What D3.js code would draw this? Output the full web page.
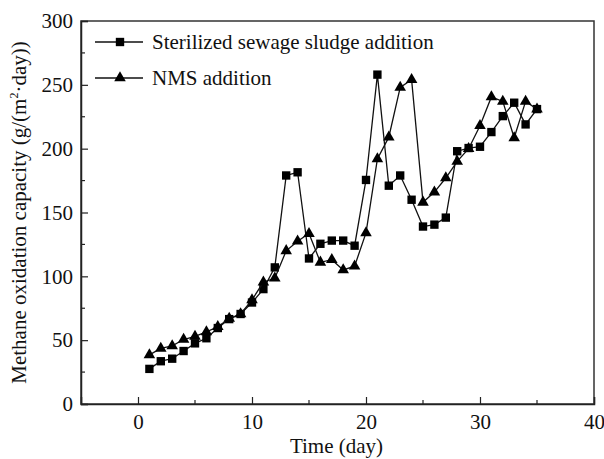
<!DOCTYPE html>
<html><head><meta charset="utf-8">
<script src="https://cdn.jsdelivr.net/npm/d3@7"></script>
<style>body{margin:0;background:#fff}svg{display:block}</style>
</head><body>
<script>
const days = d3.range(1, 36);
const sterilized = [27.5,33.5,35.5,41.5,47.5,51.5,59.5,66.5,70.5,79.5,90,107,179,181.5,114,125.5,128,128,124,175.5,258,171,179,160,139,140.5,146,198,200.5,201.5,213,225.5,236,219,231];
const nms = [38.5,43.5,45.5,50.5,53,56.5,60.5,67,70.5,81.5,95.5,98.5,120,127.5,133.5,111,113,105,108,134,192,209,248,254,158,166,177,190,200,218,240.5,237,208.5,237,231];
const seriesNames = ["Sterilized sewage sludge addition", "NMS addition"];
const xTicks = [0,10,20,30,40];
const yTicks = [0,50,100,150,200,250,300];

const W=604,H=459, L=81, R=594, T=21, B=404;
const svg=d3.select("body").append("svg").attr("width",W).attr("height",H);
const x=d3.scaleLinear().domain([-5,40]).range([L,R]);
const y=d3.scaleLinear().domain([0,300]).range([B,T]);
const font="Liberation Serif, Times New Roman, serif";
const FS=21;

svg.append("rect").attr("x",L).attr("y",T).attr("width",R-L).attr("height",B-T)
  .attr("fill","none").attr("stroke","#333").attr("stroke-width",1.5);

const xAx=svg.append("g").attr("transform",`translate(0,${B})`)
  .call(d3.axisBottom(x).tickValues(xTicks).tickSize(-7).tickPadding(10).tickFormat(d3.format("d")));
const yAx=svg.append("g").attr("transform",`translate(${L},0)`)
  .call(d3.axisLeft(y).tickValues(yTicks).tickSize(-7).tickPadding(8).tickFormat(d3.format("d")));
[xAx,yAx].forEach(g=>{
  g.select(".domain").attr("stroke","#222").attr("stroke-width",1.5);
  g.selectAll(".tick line").attr("stroke","#222").attr("stroke-width",1.2);
  g.selectAll("text").attr("font-family",font).attr("font-size",FS).attr("fill","#111");
});
svg.append("g").selectAll("line").data([5,15,25,35]).join("line")
  .attr("x1",d=>x(d)).attr("x2",d=>x(d)).attr("y1",B).attr("y2",B-4)
  .attr("stroke","#222").attr("stroke-width",1.2);
svg.append("g").selectAll("line").data([25,75,125,175,225,275]).join("line")
  .attr("x1",L).attr("x2",L+4).attr("y1",d=>y(d)).attr("y2",d=>y(d))
  .attr("stroke","#222").attr("stroke-width",1.2);

svg.append("text").attr("x",(L+R)/2-1).attr("y",453).attr("text-anchor","middle")
  .attr("font-family",font).attr("font-size",FS).attr("fill","#111").text("Time (day)");
const yt=svg.append("text").attr("transform",`translate(26,${(T+B)/2}) rotate(-90)`)
  .attr("text-anchor","middle").attr("font-family",font).attr("font-size",FS).attr("fill","#111");
yt.append("tspan").text("Methane oxidation capacity (g/(m");
yt.append("tspan").attr("font-size",12).attr("dy",-8).text("2");
yt.append("tspan").attr("dy",8).text("·day))");

const line=d3.line().x((d,i)=>x(days[i])).y(d=>y(d));
const sq=d3.symbol().type(d3.symbolSquare).size(70);
const tri=d3.symbol().type(d3.symbolTriangle).size(58);

function drawSeries(vals, sym){
  svg.append("path").datum(vals).attr("d",line).attr("fill","none").attr("stroke","#111").attr("stroke-width",1.3);
  svg.append("g").selectAll("path").data(vals).join("path")
    .attr("d",sym).attr("transform",(d,i)=>`translate(${x(days[i])},${y(d)})`).attr("fill","#000");
}
drawSeries(sterilized, sq);
drawSeries(nms, tri);

const leg=[{name:seriesNames[0],sym:sq,y:42},{name:seriesNames[1],sym:tri,y:78}];
leg.forEach(l=>{
  svg.append("line").attr("x1",95).attr("x2",143).attr("y1",l.y).attr("y2",l.y).attr("stroke","#111").attr("stroke-width",1.3);
  svg.append("path").attr("d",l.sym).attr("transform",`translate(120,${l.y})`).attr("fill","#000");
  svg.append("text").attr("x",152).attr("y",l.y+7).attr("font-family",font).attr("font-size",FS).attr("fill","#111").text(l.name);
});
</script>
</body></html>
